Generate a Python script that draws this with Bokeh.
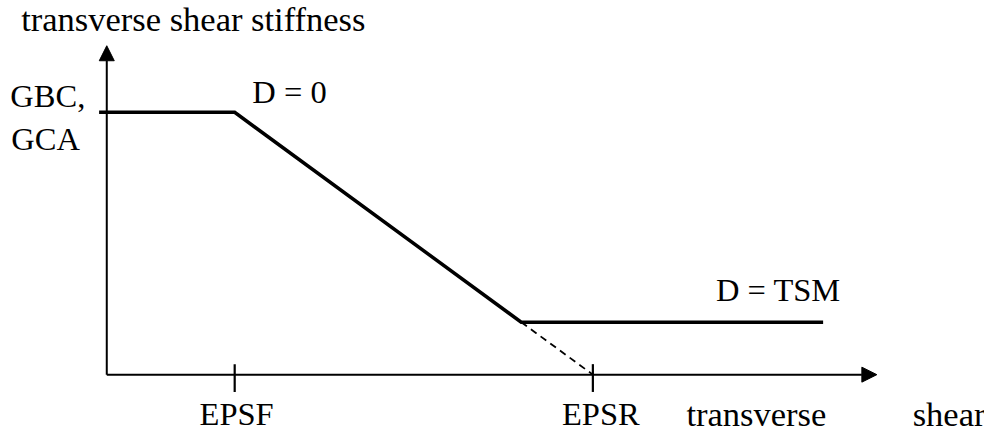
from bokeh.plotting import figure
from bokeh.models import Arrow, NormalHead, Range1d
from bokeh.core.properties import value
from bokeh.embed import file_html
from bokeh.resources import INLINE

# ---- data (schematic values) ----
EPSF = 1.0          # strain where damage starts
EPSR = 3.8          # strain where stiffness would reach zero
STRAIN_END = 5.6    # end of drawn residual branch
GBC = 1.0           # initial transverse shear stiffness (GBC, GCA)
TSM = 0.2           # residual stiffness (D = TSM)
knee = EPSF + (EPSR - EPSF) * (GBC - TSM) / GBC

curve_x = [0.0, EPSF, knee, STRAIN_END]
curve_y = [GBC, GBC, TSM, TSM]
dash_x = [knee, EPSR]
dash_y = [TSM, 0.0]
tick_x = [EPSF, EPSR]
tick_labels = ["EPSF", "EPSR"]
x_axis_end = 6.02
y_axis_end = 1.254

FONT = value("Liberation Serif")
FS_CAPS = "32.5px"
FS_LOW = "34.5px"
UP = 0.042   # baseline correction for text placement

p = figure(width=984, height=432, output_backend="svg", toolbar_location=None,
           x_range=Range1d(-108 / 130, 892 / 130),
           y_range=Range1d(-60 / 272, 388 / 272),
           min_border=0, outline_line_color=None)
p.axis.visible = False
p.grid.visible = False
p.background_fill_color = "white"
p.border_fill_color = "white"

# axes with arrow heads
p.add_layout(Arrow(end=NormalHead(size=15, fill_color="black", line_color="black"),
                   x_start=0, y_start=0, x_end=x_axis_end, y_end=0,
                   line_width=2, line_color="black"))
p.add_layout(Arrow(end=NormalHead(size=15, fill_color="black", line_color="black"),
                   x_start=0, y_start=0, x_end=0, y_end=y_axis_end,
                   line_width=2, line_color="black"))

# ticks on x axis
p.segment(x0=tick_x, y0=[0.04] * 2, x1=tick_x, y1=[-0.066] * 2,
          line_width=2.2, line_color="black")
# tick on y axis at GBC
p.segment(x0=[-0.06], y0=[GBC], x1=[0.0], y1=[GBC], line_width=3.5, line_color="black")

# main curve
p.line(curve_x, curve_y, line_width=3.5, line_color="black", line_join="miter")
# dashed extension
p.line(dash_x, dash_y, line_width=1.8, line_color="black", line_dash="7 5")

# texts
p.text(x=[-0.669], y=[1.327 + UP - 0.014], text=["transverse shear stiffness"], text_font=FONT,
       text_font_size=FS_LOW, text_baseline="alphabetic", text_align="left", text_color="black")
p.text(x=[-0.754, -0.746], y=[1.022 + UP, 0.857 + UP], text=["GBC,", "GCA"], text_font=FONT,
       text_font_size=FS_CAPS, text_baseline="alphabetic", text_align="left", text_color="black")
p.text(x=[1.138], y=[1.037 + UP], text=["D = 0"], text_font=FONT,
       text_font_size=FS_CAPS, text_baseline="alphabetic", text_align="left", text_color="black")
p.text(x=[4.762], y=[0.279 + UP], text=["D = TSM"], text_font=FONT,
       text_font_size=FS_CAPS, text_baseline="alphabetic", text_align="left", text_color="black")
p.text(x=[EPSF + 0.015, EPSR + 0.062], y=[-0.206 + UP + 0.014] * 2, text=tick_labels, text_font=FONT,
       text_font_size=FS_CAPS, text_baseline="alphabetic", text_align="center", text_color="black")
p.text(x=[4.531, 6.30], y=[-0.206 + UP + 0.014] * 2, text=["transverse", "shear"], text_font=FONT,
       text_font_size=FS_LOW, text_baseline="alphabetic", text_align="left", text_color="black")

open("out.html", "w").write(file_html(p, INLINE))
